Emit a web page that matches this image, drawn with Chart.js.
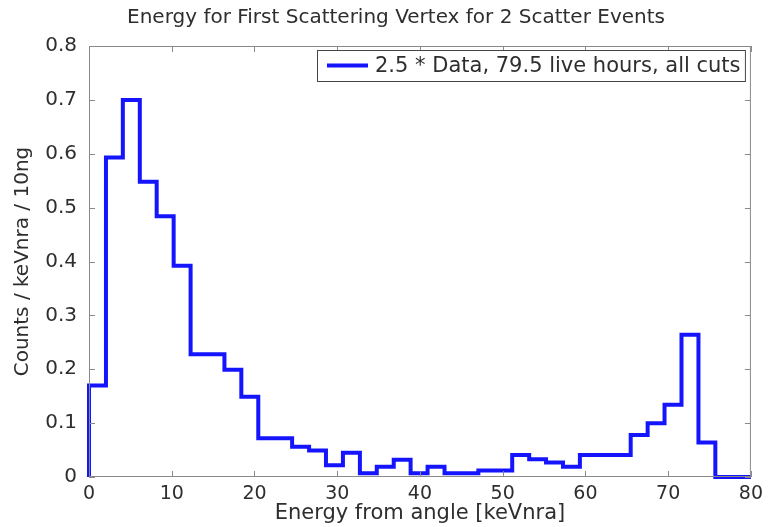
<!DOCTYPE html>
<html>
<head>
<meta charset="utf-8">
<script src="https://cdn.jsdelivr.net/npm/chart.js@4.4.1/dist/chart.umd.min.js"></script>
<style>
  html, body { margin: 0; padding: 0; background: #fff; }
  #wrap { width: 769px; height: 527px; }
</style>
</head>
<body>
<div id="wrap"><canvas id="chart" width="769" height="527"></canvas></div>
<script>
// histogram bin edges [keVnra] (37 bins, last edge closes the histogram)
const binEdges = [0, 2.05, 4.09, 6.14, 8.18, 10.23, 12.28, 14.32, 16.37, 18.41,
  20.46, 22.51, 24.55, 26.6, 28.64, 30.69, 32.74, 34.78, 36.83, 38.87,
  40.92, 42.97, 45.01, 47.06, 49.1, 51.15, 53.2, 55.24, 57.29, 59.33,
  61.38, 63.43, 65.47, 67.52, 69.56, 71.61, 73.66, 75.7];
// counts / keVnra / 10ng per bin
const binCounts = [0.17, 0.593, 0.70, 0.548, 0.484, 0.392, 0.228, 0.228, 0.199, 0.149,
  0.072, 0.072, 0.056, 0.049, 0.022, 0.045, 0.007, 0.019, 0.032, 0.007,
  0.019, 0.007, 0.007, 0.012, 0.012, 0.041, 0.033, 0.027, 0.019, 0.041,
  0.041, 0.041, 0.078, 0.10, 0.134, 0.264, 0.064];
const xTicks = [0, 10, 20, 30, 40, 50, 60, 70, 80];
const yTicks = [0, 0.1, 0.2, 0.3, 0.4, 0.5, 0.6, 0.7, 0.8];
const seriesLabel = '2.5 * Data, 79.5 live hours, all cuts';
const chartTitle = 'Energy for First Scattering Vertex for 2 Scatter Events';

const FONT = "'DejaVu Sans', Verdana, sans-serif";
const TEXT = '#2e2e2e';
const BOX = '#8a8a8a';
const BLUE = '#1414ff';

// step outline: start at baseline, one point per bin left edge, drop back to 0 after the last bin
const points = [{ x: binEdges[0], y: 0 }];
binCounts.forEach((c, i) => points.push({ x: binEdges[i], y: c }));
points.push({ x: binEdges[binEdges.length - 1], y: 0 });
points.push({ x: xTicks[xTicks.length - 1], y: 0 });

const matlabFrame = {
  id: 'matlabFrame',
  afterDraw(chart) {
    const { ctx, chartArea: a, scales } = chart;
    ctx.save();
    // box + inward ticks
    ctx.strokeStyle = BOX;
    ctx.lineWidth = 1;
    ctx.strokeRect(a.left + 0.5, a.top + 0.5, a.right - a.left - 1, a.bottom - a.top - 1);
    ctx.beginPath();
    xTicks.forEach(v => {
      const px = Math.round(scales.x.getPixelForValue(v)) + 0.5;
      ctx.moveTo(px, a.bottom); ctx.lineTo(px, a.bottom - 6);
      ctx.moveTo(px, a.top); ctx.lineTo(px, a.top + 6);
    });
    yTicks.forEach(v => {
      const py = Math.round(scales.y.getPixelForValue(v)) + 0.5;
      ctx.moveTo(a.left, py); ctx.lineTo(a.left + 6, py);
      ctx.moveTo(a.right, py); ctx.lineTo(a.right - 6, py);
    });
    ctx.stroke();

    // title
    ctx.fillStyle = TEXT;
    ctx.font = '20px ' + FONT;
    ctx.textAlign = 'center';
    ctx.textBaseline = 'middle';
    ctx.fillText(chartTitle, 396, 18);

    // legend
    const lx = 317, ly = 50, lw = a.right - 6 - lx, lh = 31;
    ctx.fillStyle = '#fff';
    ctx.fillRect(lx, ly, lw, lh);
    ctx.strokeStyle = '#444';
    ctx.strokeRect(lx + 0.5, ly + 0.5, lw, lh);
    ctx.strokeStyle = BLUE;
    ctx.lineWidth = 4;
    ctx.beginPath();
    ctx.moveTo(lx + 10, ly + lh / 2); ctx.lineTo(lx + 51, ly + lh / 2);
    ctx.stroke();
    ctx.fillStyle = TEXT;
    ctx.font = '21px ' + FONT;
    ctx.textAlign = 'left';
    ctx.fillText(seriesLabel, lx + 58, ly + lh / 2 + 1);
    ctx.restore();
  }
};

new Chart(document.getElementById('chart'), {
  type: 'line',
  data: {
    datasets: [{
      label: seriesLabel,
      data: points,
      stepped: 'before',
      borderColor: BLUE,
      borderWidth: 4,
      pointRadius: 0,
      fill: false,
      clip: 8,
      borderJoinStyle: 'miter'
    }]
  },
  options: {
    responsive: false,
    animation: false,
    layout: { padding: { left: 0, right: 17, top: 46, bottom: 0 } },
    plugins: { legend: { display: false }, title: { display: false }, tooltip: { enabled: false } },
    scales: {
      x: {
        type: 'linear', min: 0, max: 80,
        afterBuildTicks: s => { s.ticks = xTicks.map(v => ({ value: v })); },
        afterFit: s => { s.height = 50; },
        grid: { display: false, drawTicks: false },
        border: { display: false },
        ticks: { color: TEXT, padding: 6, font: { family: FONT, size: 19 } },
        title: { display: true, text: 'Energy from angle [keVnra]', color: TEXT,
                 font: { family: FONT, size: 21 }, padding: { top: 0, bottom: 1 } }
      },
      y: {
        type: 'linear', min: 0, max: 0.8,
        afterBuildTicks: s => { s.ticks = yTicks.map(v => ({ value: v })); },
        afterFit: s => { s.width = 89; },
        grid: { display: false, drawTicks: false },
        border: { display: false },
        ticks: { color: TEXT, padding: 12, font: { family: FONT, size: 20 },
                 callback: v => v === 0 ? '0' : v.toFixed(1) },
        title: { display: true, text: 'Counts / keVnra / 10ng', color: TEXT,
                 font: { family: FONT, size: 20 }, padding: { top: 11, bottom: 0 } }
      }
    }
  },
  plugins: [matlabFrame]
});
</script>
</body>
</html>
